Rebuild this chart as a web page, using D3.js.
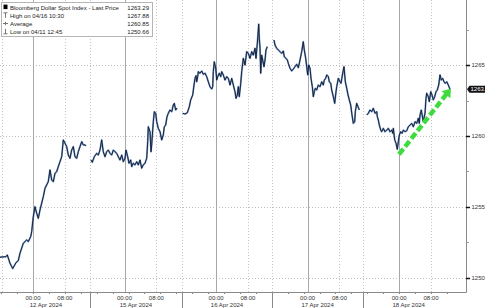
<!DOCTYPE html>
<html>
<head>
<meta charset="utf-8">
<script src="https://cdn.jsdelivr.net/npm/d3@7"></script>
<style>
  body { margin: 0; background: #fff; }
  svg { display: block; font-family: "Liberation Sans", Arial, sans-serif; }
</style>
</head>
<body>
<svg id="chart" width="485" height="308"></svg>
<script>
// [trading hour since 12 Apr 00:00 (a trading day = 23h on the axis), last price]
// null = session break
const prices = [
  [-8.29,1251.46],[-6.78,1251.50],[-6.46,1251.62],[-5.78,1251.04],[-5.10,1250.66],[-4.27,1251.08],
  [-3.69,1251.22],[-3.27,1251.74],[-2.44,1252.44],[-1.58,1252.68],[-1.18,1252.56],[-0.58,1252.91],
  [-0.33,1253.26],[0.08,1254.32],[0.50,1255.02],[0.93,1254.56],[1.33,1254.20],[1.76,1254.79],
  [2.59,1255.73],[3.02,1256.32],[3.84,1256.78],[4.27,1257.61],[4.70,1256.90],[5.10,1256.78],
  [5.53,1257.37],[5.95,1257.49],[6.36,1257.84],[6.78,1258.19],[7.21,1258.54],[7.61,1259.72],
  [8.04,1259.49],[8.47,1259.25],[8.87,1258.66],[9.30,1258.43],[9.72,1259.01],[10.13,1259.25],
  [10.55,1258.54],[10.98,1258.43],[11.38,1258.89],[11.81,1259.25],[12.24,1259.60],[12.64,1259.37],
  [13.07,1259.37],[13.32,1259.30],
  null,
  [14.57,1258.31],[14.90,1258.15],[15.40,1258.54],[16.01,1258.78],[16.41,1258.66],[16.83,1259.01],
  [17.26,1259.72],[17.66,1258.89],[18.09,1258.54],[18.52,1258.89],[18.92,1259.01],[19.35,1258.78],
  [19.77,1258.66],[20.18,1259.01],[20.60,1258.89],[21.03,1258.78],[21.43,1258.54],[21.86,1258.31],
  [22.29,1258.66],[22.69,1258.19],[23.12,1258.43],[23.37,1259.01],[23.79,1258.54],[24.12,1258.08],
  [24.55,1258.31],[24.80,1257.84],[25.20,1258.08],[25.63,1257.96],[26.06,1258.19],[26.46,1257.96],
  [26.88,1258.31],[27.31,1257.73],[27.71,1257.96],[28.14,1258.08],[28.57,1258.43],[28.82,1259.60],
  [28.97,1260.65],[29.40,1260.30],[29.65,1258.89],[29.82,1259.37],[30.23,1261.01],[30.48,1261.71],
  [30.83,1261.60],[31.08,1261.01],[31.48,1260.54],[31.91,1260.30],[32.34,1259.72],[32.74,1260.07],
  [32.99,1260.65],[33.34,1260.77],[33.67,1261.36],[34.00,1261.60],[34.42,1261.83],[34.85,1261.71],
  [35.25,1262.18],[35.50,1262.30],[35.85,1261.83],[36.18,1261.97],
  null,
  [37.61,1261.60],[38.19,1261.55],[38.77,1261.64],[39.27,1262.06],[39.62,1262.54],[40.13,1262.89],
  [40.45,1263.59],[40.70,1264.06],[40.96,1264.25],[41.13,1263.82],[41.38,1264.18],[41.53,1264.53],
  [41.96,1264.42],[42.39,1264.58],[42.79,1264.35],[43.22,1264.42],[43.64,1264.18],[44.05,1263.82],
  [44.47,1263.47],[44.90,1263.31],[45.15,1263.47],[45.30,1264.53],[45.55,1265.23],[45.91,1264.77],
  [46.16,1263.94],[46.41,1264.18],[46.81,1264.42],[47.16,1264.18],[47.41,1264.53],[47.81,1264.30],
  [48.24,1263.94],[48.67,1264.18],[49.07,1264.06],[49.50,1263.59],[49.93,1264.06],[50.33,1263.59],
  [50.75,1263.12],[51.01,1262.65],[51.33,1262.89],[51.58,1263.47],[51.83,1262.77],[52.19,1263.71],
  [52.44,1264.53],[52.84,1265.47],[53.27,1265.00],[53.69,1265.94],[54.10,1265.82],[54.52,1265.47],
  [54.95,1265.94],[55.35,1265.70],[55.78,1266.18],[56.03,1265.47],[56.36,1266.53],[56.71,1267.88],
  [56.86,1266.88],[57.04,1266.18],[57.21,1264.42],[57.46,1265.70],[57.71,1265.35],[58.04,1264.88],
  [58.29,1265.35],[58.54,1266.06],[58.87,1266.29],
  null,
  [60.55,1266.76],[60.80,1266.41],[61.23,1266.18],[61.63,1266.06],[62.06,1265.94],[62.49,1265.82],
  [62.89,1265.99],[63.14,1265.58],[63.57,1265.47],[63.90,1265.35],[64.15,1265.12],[64.57,1264.77],
  [65.00,1264.58],[65.40,1264.72],[65.83,1264.88],[66.26,1265.05],[66.66,1264.81],[67.08,1265.35],
  [67.51,1265.94],[67.91,1266.64],[68.16,1266.06],[68.52,1265.47],[68.77,1264.88],[69.02,1264.30],
  [69.27,1265.00],[69.60,1264.77],[69.85,1264.06],[70.18,1263.47],[70.43,1262.77],[70.68,1263.12],
  [70.93,1263.36],[71.28,1263.24],[71.68,1263.59],[72.11,1263.47],[72.54,1263.82],[72.94,1263.59],
  [73.19,1263.94],[73.54,1264.06],[73.79,1264.30],[74.20,1264.18],[74.45,1263.82],[74.80,1263.71],
  [75.05,1263.24],[75.45,1262.77],[75.80,1262.30],[76.13,1263.12],[76.31,1263.47],[76.71,1264.06],
  [77.14,1263.82],[77.39,1263.71],[77.81,1264.42],[78.14,1264.88],[78.47,1263.82],[78.82,1263.36],
  [79.15,1262.89],[79.47,1262.54],[79.82,1262.18],[80.15,1261.48],[80.48,1260.89],[80.83,1261.01],
  [80.98,1261.71],[81.33,1262.30],[81.66,1262.06],[81.99,1261.83],
  null,
  [83.85,1261.48],[84.25,1261.60],[84.67,1261.83],[85.10,1261.71],[85.50,1261.95],[85.93,1261.60],
  [86.36,1261.71],[86.51,1261.36],[86.76,1261.13],[87.01,1260.77],[87.36,1260.42],[87.61,1260.30],
  [88.02,1260.54],[88.44,1260.30],[88.87,1260.42],[89.27,1260.54],[89.70,1260.30],[90.13,1260.42],
  [90.38,1260.19],[90.53,1260.54],[90.88,1259.72],[91.21,1259.49],[91.53,1259.06],[91.79,1259.60],
  [92.04,1260.07],[92.39,1260.30],[92.72,1260.19],[93.07,1260.42],[93.47,1260.30],[93.90,1260.37],
  [94.30,1260.65],[94.72,1260.77],[95.15,1260.89],[95.56,1260.65],[95.98,1261.01],[96.41,1260.89],
  [96.81,1261.25],[97.06,1260.89],[97.24,1261.48],[97.56,1261.83],[97.91,1261.25],[98.06,1261.01],
  [98.49,1261.60],[98.74,1262.65],[98.92,1263.01],[99.32,1262.77],[99.57,1262.42],[99.93,1263.12],
  [100.25,1262.89],[100.58,1262.54],[100.93,1262.77],[101.25,1263.12],[101.58,1263.24],[101.93,1263.59],
  [102.26,1264.30],[102.59,1263.94],[102.94,1264.06],[103.27,1263.82],[103.59,1263.71],[103.94,1263.82],
  [104.35,1263.59],[104.77,1263.29]
];

const hourTicks = [0, 8, 23, 31, 46, 54, 69, 77, 92, 100];
const hourLabels = ["00:00", "08:00", "00:00", "08:00", "00:00", "08:00", "00:00", "08:00", "00:00", "08:00"];
const sessionBounds = [-7.8, 14.3, 37.4, 60.1, 82.9, 105.9];
const dayLabels = ["12 Apr 2024", "15 Apr 2024", "16 Apr 2024", "17 Apr 2024", "18 Apr 2024"];
const priceTicks = [1250, 1255, 1260, 1265];
const minorPriceTicks = [1252.5, 1257.5, 1262.5, 1267.5];

const legendNames = ["Bloomberg Dollar Spot Index - Last Price", "High on 04/16 10:30", "Average", "Low on 04/11 12:45"];
const legendValues = ["1263.29", "1267.88", "1260.85", "1250.66"];
const lastPrice = 1263.29;
const trendArrow = [[91.95, 1258.7], [105.0, 1263.35]];

const W = 485, H = 308;
const plot = { left: 0, right: 466, top: 0, bottom: 292 };

const svg = d3.select("#chart");

const x = d3.scaleLinear().domain([-8.29, 108.79]).range([plot.left, plot.right]);
const y = d3.scaleLinear().domain([1249.01, 1269.58]).range([plot.bottom, plot.top]);

// grid
const grid = svg.append("g");
grid.selectAll(".hg").data(priceTicks).enter().append("line")
    .attr("x1", plot.left).attr("x2", plot.right)
    .attr("y1", d => Math.round(y(d)) + 0.5).attr("y2", d => Math.round(y(d)) + 0.5)
    .attr("stroke", "#bdbdbd").attr("stroke-dasharray", "1,2");

grid.selectAll(".vg").data(hourTicks).enter().append("line")
    .attr("x1", d => Math.round(x(d)) + 0.5).attr("x2", d => Math.round(x(d)) + 0.5)
    .attr("y1", plot.top).attr("y2", plot.bottom)
    .attr("stroke", (d, i) => hourLabels[i] === "00:00" ? "#a8a8a8" : "#c4c4c4")
    .attr("stroke-dasharray", (d, i) => hourLabels[i] === "00:00" ? null : "1,2");

grid.selectAll(".sg").data(sessionBounds.slice(0, -1)).enter().append("line")
    .attr("x1", d => Math.round(x(d)) + 0.5).attr("x2", d => Math.round(x(d)) + 0.5)
    .attr("y1", plot.top).attr("y2", plot.bottom)
    .attr("stroke", "#c4c4c4").attr("stroke-dasharray", "1,2");

// price line
const line = d3.line()
    .defined(d => d !== null)
    .x(d => x(d[0]))
    .y(d => y(d[1]));

svg.append("path").datum(prices)
    .attr("d", line)
    .attr("fill", "none")
    .attr("stroke", "#4a78b8")
    .attr("stroke-opacity", 0.75)
    .attr("stroke-width", 1.8)
    .attr("stroke-linejoin", "round");
svg.append("path").datum(prices)
    .attr("d", line)
    .attr("fill", "none")
    .attr("stroke", "#0f1628")
    .attr("stroke-width", 0.9)
    .attr("stroke-linejoin", "round");

// green trend arrow
const [a0, a1] = trendArrow.map(p => [x(p[0]), y(p[1])]);
const ang = Math.atan2(a1[1] - a0[1], a1[0] - a0[0]);
const headLen = 8, headW = 5.5;
const base = [a1[0] - headLen * Math.cos(ang), a1[1] - headLen * Math.sin(ang)];
svg.append("line")
    .attr("x1", a0[0]).attr("y1", a0[1])
    .attr("x2", base[0] + 1.5 * Math.cos(ang)).attr("y2", base[1] + 1.5 * Math.sin(ang))
    .attr("stroke", "#3edb3e").attr("stroke-width", 4.5)
    .attr("stroke-dasharray", "7,3");
svg.append("path")
    .attr("d", d3.line()([
        a1,
        [base[0] + headW * Math.sin(ang), base[1] - headW * Math.cos(ang)],
        [base[0] - headW * Math.sin(ang), base[1] + headW * Math.cos(ang)]
    ]) + "Z")
    .attr("fill", "#3edb3e");

// axes frame
svg.append("line")
    .attr("x1", plot.right + 0.5).attr("x2", plot.right + 0.5)
    .attr("y1", plot.top).attr("y2", plot.bottom + 0.5)
    .attr("stroke", "#8a8a8a");
svg.append("line")
    .attr("x1", plot.left).attr("x2", plot.right + 0.5)
    .attr("y1", plot.bottom + 0.5).attr("y2", plot.bottom + 0.5)
    .attr("stroke", "#8a8a8a");

// y axis ticks + labels
const yAxis = svg.append("g");
yAxis.selectAll(".mt").data(minorPriceTicks).enter().append("line")
    .attr("x1", plot.right).attr("x2", plot.right + 3)
    .attr("y1", d => Math.round(y(d)) + 0.5).attr("y2", d => Math.round(y(d)) + 0.5)
    .attr("stroke", "#9a9a9a");
yAxis.selectAll(".t").data(priceTicks).enter().append("line")
    .attr("x1", plot.right).attr("x2", plot.right + 4)
    .attr("y1", d => Math.round(y(d)) + 0.5).attr("y2", d => Math.round(y(d)) + 0.5)
    .attr("stroke", "#111").attr("stroke-width", 1.5);
yAxis.selectAll("text").data(priceTicks).enter().append("text")
    .attr("x", plot.right + 5.5).attr("y", d => y(d) + 2)
    .attr("font-size", 6).attr("fill", "#333")
    .text(d => d);

// last price tag (runs off the right edge, as in the source)
const ly = y(lastPrice);
svg.append("path")
    .attr("d", `M${plot.right + 1},${ly} L${plot.right + 3.5},${ly - 3.5} L${W + 10},${ly - 3.5} L${W + 10},${ly + 3.5} L${plot.right + 3.5},${ly + 3.5} Z`)
    .attr("fill", "#111");
svg.append("text")
    .attr("x", plot.right + 4.5).attr("y", ly + 2.1)
    .attr("font-size", 6).attr("fill", "#fff")
    .text(lastPrice.toFixed(2));

// x axis ticks + labels
const xAxis = svg.append("g");
xAxis.selectAll(".xt").data(d3.range(-8, 108, 4)).enter().append("line")
    .attr("x1", d => Math.round(x(d)) + 0.5).attr("x2", d => Math.round(x(d)) + 0.5)
    .attr("y1", plot.bottom).attr("y2", plot.bottom + 2)
    .attr("stroke", "#888");
xAxis.selectAll(".xl").data(hourTicks).enter().append("text")
    .attr("x", d => x(d)).attr("y", 300)
    .attr("text-anchor", "middle")
    .attr("font-size", 6).attr("fill", "#333")
    .text((d, i) => hourLabels[i]);
xAxis.selectAll(".sep").data(sessionBounds.slice(1, -1)).enter().append("line")
    .attr("x1", d => Math.round(x(d)) + 0.5).attr("x2", d => Math.round(x(d)) + 0.5)
    .attr("y1", plot.bottom).attr("y2", H)
    .attr("stroke", "#8a8a8a");
xAxis.selectAll(".dl").data(dayLabels).enter().append("text")
    .attr("x", (d, i) => x((sessionBounds[i] + sessionBounds[i + 1]) / 2))
    .attr("y", 306.5)
    .attr("text-anchor", "middle")
    .attr("font-size", 6).attr("fill", "#333")
    .text(d => d);

// legend
const lg = svg.append("g");
lg.append("rect")
    .attr("x", 1.5).attr("y", 2.5).attr("width", 151).attr("height", 34)
    .attr("fill", "#fff").attr("stroke", "#b5b5b5");
const rowY = [9.6, 17.8, 25.8, 33.8];
lg.selectAll(".ln").data(legendNames).enter().append("text")
    .attr("x", 10).attr("y", (d, i) => rowY[i])
    .attr("font-size", 6).attr("fill", "#222")
    .text(d => d);
lg.selectAll(".lv").data(legendValues).enter().append("text")
    .attr("x", 149).attr("y", (d, i) => rowY[i])
    .attr("text-anchor", "end")
    .attr("font-size", 6).attr("fill", "#222")
    .text(d => d);
// legend markers
lg.append("rect").attr("x", 3.5).attr("y", rowY[0] - 5).attr("width", 4).attr("height", 4.5).attr("fill", "#000");
lg.append("path").attr("d", `M3.5,${rowY[1] - 5}H7.5M5.5,${rowY[1] - 5}V${rowY[1]}`)
    .attr("stroke", "#777").attr("fill", "none");
lg.append("path").attr("d", `M3,${rowY[2] - 2.3}H8M5.5,${rowY[2] - 4}V${rowY[2] - 0.6}`)
    .attr("stroke", "#777").attr("fill", "none");
lg.append("path").attr("d", `M5.5,${rowY[3] - 5}V${rowY[3]}M3.5,${rowY[3]}H7.5`)
    .attr("stroke", "#777").attr("fill", "none");
</script>
</body>
</html>
